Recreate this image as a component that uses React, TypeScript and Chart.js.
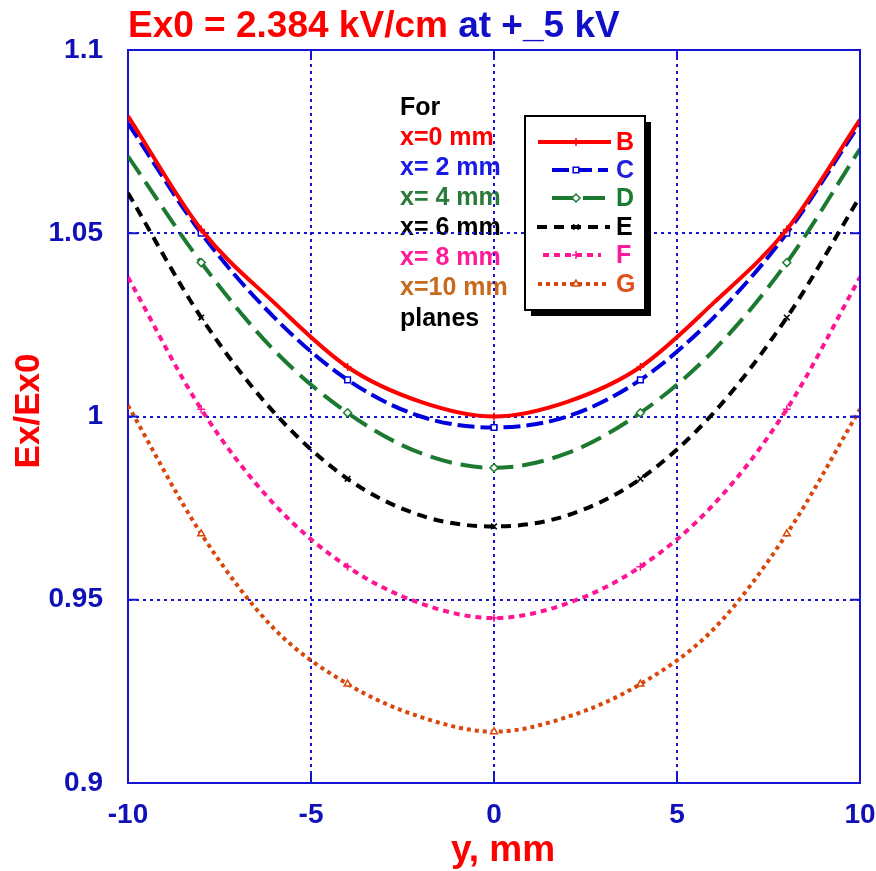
import React, { useEffect, useRef } from 'react';
import { Chart, registerables } from 'chart.js';
import { drawPoint } from 'chart.js/helpers';

Chart.register(...registerables);

// ---- data ----
const yPositions = [-10, -8, -6, -4, -2, 0, 2, 4, 6, 8, 10];
const seriesB = [1.082, 1.051, 1.031, 1.0135, 1.004, 1.0, 1.004, 1.0135, 1.031, 1.051, 1.081];
const seriesC = [1.08, 1.05, 1.027, 1.01, 1.0, 0.997, 1.0, 1.01, 1.027, 1.05, 1.08];
const seriesD = [1.071, 1.042, 1.018, 1.001, 0.99, 0.986, 0.99, 1.001, 1.018, 1.042, 1.073];
const seriesE = [1.061, 1.027, 1.001, 0.983, 0.973, 0.97, 0.973, 0.983, 1.001, 1.027, 1.06];
const seriesF = [1.038, 1.002, 0.976, 0.959, 0.949, 0.945, 0.949, 0.959, 0.976, 1.002, 1.038];
const seriesG = [1.003, 0.968, 0.942, 0.927, 0.918, 0.914, 0.918, 0.927, 0.942, 0.968, 1.002];
const markerPositions = [-8, -4, 0, 4, 8];

const seriesLabels = ['B', 'C', 'D', 'E', 'F', 'G'];
const planeLabels = ['For', 'x=0 mm', 'x= 2 mm', 'x= 4 mm', 'x= 6 mm', 'x= 8 mm', 'x=10 mm', 'planes'];
const titleRed = 'Ex0 = 2.384 kV/cm';
const titleBlue = ' at +_5 kV';
const yAxisTitle = 'Ex/Ex0';
const xAxisTitle = 'y, mm';

// ---- styles ----
const AXIS = '#1414d2';
const TICK = '#1010b8';
const FONT = '"Liberation Sans", Arial, sans-serif';
const styles = [
  { color: '#ff0000', dash: [], width: 4, point: 'cross', fillPt: '#ff0000', text: '#ff0000', letter: '#ff0000' },
  { color: '#0000dc', dash: [17, 6], width: 4, point: 'rect', fillPt: '#ffffff', text: '#1a1ae6', letter: '#2020d8' },
  { color: '#1c7a30', dash: [22, 9], width: 4, point: 'rectRot', fillPt: '#ffffff', text: '#2a7a3a', letter: '#1c7a30' },
  { color: '#000000', dash: [10, 7], width: 4, point: 'crossRot', fillPt: '#000000', text: '#000000', letter: '#000000' },
  { color: '#ff1493', dash: [6, 5], width: 4, point: 'cross', fillPt: '#ff1493', text: '#ff1a9a', letter: '#ff1a9a' },
  { color: '#d8480c', dash: [4, 4], width: 4, point: 'triangle', fillPt: '#ffffff', text: '#c86a1c', letter: '#e0501a' },
];
const allSeries = [seriesB, seriesC, seriesD, seriesE, seriesF, seriesG];

const decorPlugin = {
  id: 'decor',
  beforeDraw(chart: any) {
    const { ctx, width, height } = chart;
    ctx.save();
    ctx.fillStyle = '#ffffff';
    ctx.fillRect(0, 0, width, height);
    // text block "For x=.. planes"
    ctx.font = `bold 25px ${FONT}`;
    ctx.textBaseline = 'middle';
    ctx.textAlign = 'left';
    const colors = ['#000000', ...styles.map((s) => s.text), '#000000'];
    planeLabels.forEach((t, i) => {
      ctx.fillStyle = colors[i];
      ctx.fillText(t, 400, 108 + i * 30.1);
    });
    ctx.restore();
  },
  afterDraw(chart: any) {
    const { ctx, chartArea, scales } = chart;
    const { left, right, top, bottom } = chartArea;
    const xs = scales.x;
    const ys = scales.y;
    ctx.save();
    // frame (top, right)
    ctx.strokeStyle = AXIS;
    ctx.lineWidth = 2;
    ctx.setLineDash([]);
    ctx.beginPath();
    ctx.moveTo(left, top);
    ctx.lineTo(right, top);
    ctx.lineTo(right, bottom);
    ctx.stroke();
    // inward ticks
    ctx.beginPath();
    xs.ticks.forEach((t: any) => {
      const px = xs.getPixelForValue(t.value);
      ctx.moveTo(px, bottom);
      ctx.lineTo(px, bottom - 10);
      ctx.moveTo(px, top);
      ctx.lineTo(px, top + 10);
    });
    ys.ticks.forEach((t: any) => {
      const py = ys.getPixelForValue(t.value);
      ctx.moveTo(left, py);
      ctx.lineTo(left + 10, py);
      ctx.moveTo(right, py);
      ctx.lineTo(right - 10, py);
    });
    ctx.stroke();

    // title
    ctx.font = `bold 37px ${FONT}`;
    ctx.textBaseline = 'alphabetic';
    ctx.textAlign = 'left';
    ctx.fillStyle = '#ff0000';
    ctx.fillText(titleRed, 128, 37);
    const w = ctx.measureText(titleRed).width;
    ctx.fillStyle = '#1010c8';
    ctx.fillText(titleBlue, 128 + w, 37);

    // y axis title
    ctx.save();
    ctx.translate(29, 411);
    ctx.rotate(-Math.PI / 2);
    ctx.font = `bold 35px ${FONT}`;
    ctx.textAlign = 'center';
    ctx.textBaseline = 'middle';
    ctx.fillStyle = '#ff0000';
    ctx.fillText(yAxisTitle, 0, 0);
    ctx.restore();

    // x axis title
    ctx.font = `bold 37px ${FONT}`;
    ctx.textAlign = 'center';
    ctx.textBaseline = 'alphabetic';
    ctx.fillStyle = '#ff0000';
    ctx.fillText(xAxisTitle, 503, 861);

    // legend box
    const bx = 525, by = 116, bw = 120, bh = 194;
    ctx.fillStyle = '#000000';
    ctx.fillRect(bx + 6, by + 6, bw, bh);
    ctx.fillStyle = '#ffffff';
    ctx.fillRect(bx, by, bw, bh);
    ctx.strokeStyle = '#000000';
    ctx.lineWidth = 2;
    ctx.strokeRect(bx, by, bw, bh);
    const rowsY = [142, 170, 198, 227, 255, 284];
    const lineX = [[538, 611], [552, 608], [552, 610], [537, 610], [543, 601], [538, 608]];
    ctx.font = `bold 25px ${FONT}`;
    ctx.textBaseline = 'middle';
    ctx.textAlign = 'left';
    styles.forEach((s, i) => {
      const yy = rowsY[i];
      ctx.strokeStyle = s.color;
      ctx.lineWidth = s.width;
      ctx.setLineDash(s.dash);
      ctx.beginPath();
      ctx.moveTo(lineX[i][0], yy);
      ctx.lineTo(lineX[i][1], yy);
      ctx.stroke();
      ctx.setLineDash([]);
      ctx.fillStyle = s.fillPt;
      ctx.strokeStyle = s.color;
      ctx.lineWidth = 1.5;
      drawPoint(ctx, { pointStyle: s.point, radius: 4, borderWidth: 1.5, rotation: 0 } as any, 576, yy);
      ctx.fillStyle = s.letter;
      ctx.fillText(seriesLabels[i], 616, yy + 1);
    });
    ctx.restore();
  },
};

export default function App() {
  const ref = useRef<HTMLCanvasElement>(null);
  useEffect(() => {
    if (!ref.current) return;
    const datasets = allSeries.map((vals, k) => {
      const s = styles[k];
      return {
        label: seriesLabels[k],
        data: yPositions.map((x, i) => ({ x, y: vals[i] })),
        borderColor: s.color,
        borderWidth: s.width,
        borderDash: s.dash,
        pointStyle: s.point,
        pointRadius: yPositions.map((x) => (markerPositions.includes(x) ? 4 : 0)),
        pointHoverRadius: 0,
        pointBorderColor: s.color,
        pointBackgroundColor: s.fillPt,
        pointBorderWidth: 1.5,
        cubicInterpolationMode: 'monotone',
        fill: false,
      };
    });
    const chart = new Chart(ref.current, {
      type: 'line',
      data: { datasets } as any,
      options: {
        animation: false,
        responsive: false,
        events: [],
        layout: { padding: { top: 50, right: 16, left: 0, bottom: 0 } },
        plugins: { legend: { display: false }, tooltip: { enabled: false } },
        scales: {
          x: {
            type: 'linear',
            min: -10,
            max: 10,
            ticks: {
              stepSize: 5,
              color: TICK,
              font: { family: FONT, size: 28, weight: 'bold' },
              padding: 15,
              maxRotation: 0,
            },
            grid: { color: AXIS, lineWidth: 2, drawTicks: false },
            border: { display: true, color: AXIS, width: 2, dash: [3, 4] },
            afterFit: (s: any) => {
              s.height = 88;
              s.paddingLeft = 0;
              s.paddingRight = 0;
            },
          },
          y: {
            type: 'linear',
            min: 0.9,
            max: 1.1,
            ticks: {
              stepSize: 0.05,
              color: TICK,
              font: { family: FONT, size: 28, weight: 'bold' },
              padding: 25,
              callback: (v: any) => String(Number(Number(v).toFixed(2))),
            },
            grid: { color: AXIS, lineWidth: 2, drawTicks: false },
            border: { display: true, color: AXIS, width: 2, dash: [3, 4] },
            afterFit: (s: any) => {
              s.width = 128;
              s.paddingTop = 0;
              s.paddingBottom = 0;
            },
          },
        },
      },
      plugins: [decorPlugin],
    } as any);
    return () => chart.destroy();
  }, []);
  return (
    <div style={{ position: 'absolute', left: 0, top: 0, width: 876, height: 871 }}>
      <canvas ref={ref} width={876} height={871} style={{ display: 'block', width: 876, height: 871 }} />
    </div>
  );
}
